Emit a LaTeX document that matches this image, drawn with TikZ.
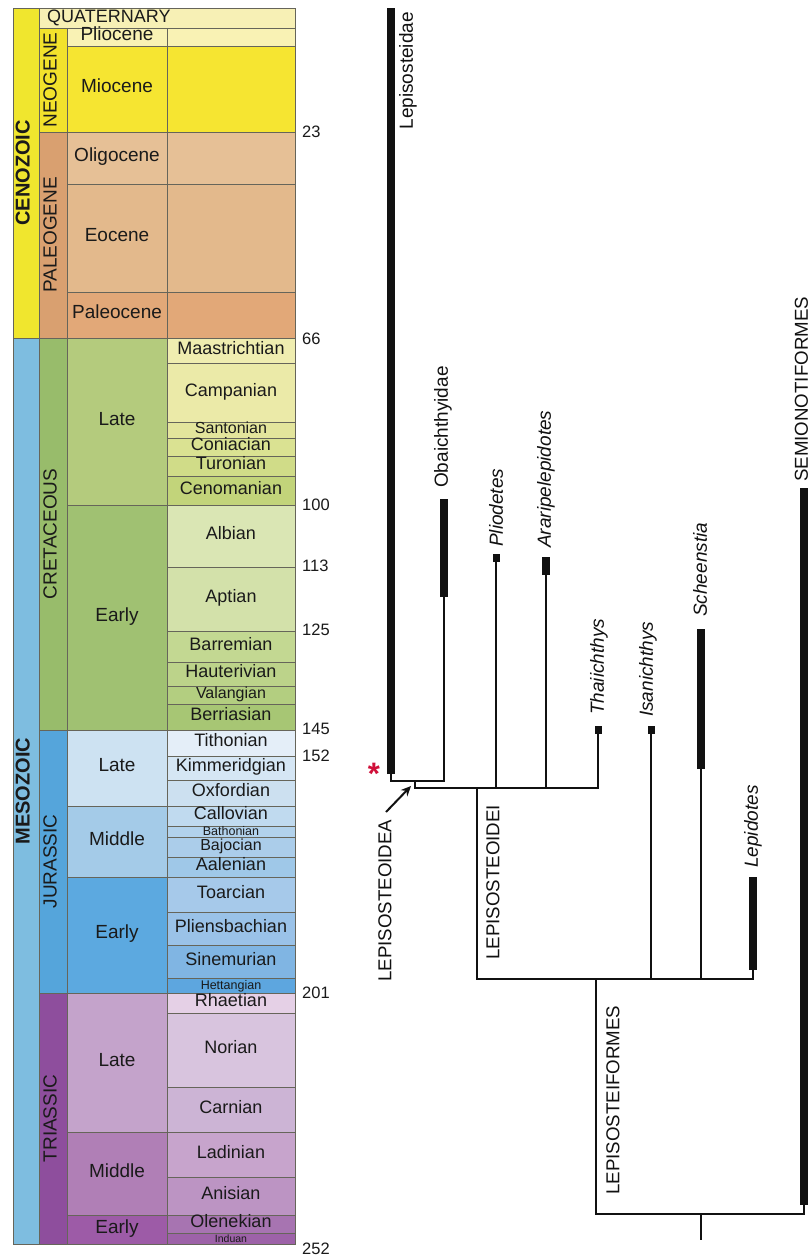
\documentclass[tikz,border=0pt]{standalone}
\usepackage{fontspec}
\setmainfont{Liberation Sans}
\usetikzlibrary{arrows.meta}
\definecolor{tsborder}{HTML}{66655A}
\definecolor{cCen}{HTML}{F0E62E}
\definecolor{cQua}{HTML}{F7F0B5}
\definecolor{cNeo}{HTML}{F2E22C}
\definecolor{cPlio}{HTML}{F9F2B4}
\definecolor{cMio}{HTML}{F6E531}
\definecolor{cPgn}{HTML}{D9A070}
\definecolor{cOli}{HTML}{E6C096}
\definecolor{cEoc}{HTML}{E3B98C}
\definecolor{cPal}{HTML}{E2A878}
\definecolor{cMes}{HTML}{7EBDE0}
\definecolor{cCre}{HTML}{98BC6B}
\definecolor{cLCr}{HTML}{B4CB7D}
\definecolor{cECr}{HTML}{A0C172}
\definecolor{cMaa}{HTML}{EFEDB0}
\definecolor{cCam}{HTML}{EBEAA8}
\definecolor{cSan}{HTML}{E3E59C}
\definecolor{cCon}{HTML}{DAE292}
\definecolor{cTur}{HTML}{D0DC88}
\definecolor{cCen2}{HTML}{C2D47A}
\definecolor{cAlb}{HTML}{DAE6B4}
\definecolor{cApt}{HTML}{D3E1AA}
\definecolor{cBar}{HTML}{C3D892}
\definecolor{cHau}{HTML}{BCD38A}
\definecolor{cVal}{HTML}{B3CE80}
\definecolor{cBer}{HTML}{A7C674}
\definecolor{cJur}{HTML}{55A5DB}
\definecolor{cLJu}{HTML}{CDE2F2}
\definecolor{cMJu}{HTML}{A4CBE8}
\definecolor{cEJu}{HTML}{5CA9E0}
\definecolor{cTit}{HTML}{E4EEF8}
\definecolor{cKim}{HTML}{D5E6F4}
\definecolor{cOxf}{HTML}{CCE0F0}
\definecolor{cCal}{HTML}{C0DAEF}
\definecolor{cBat}{HTML}{B2D2EC}
\definecolor{cBaj}{HTML}{ABCDEA}
\definecolor{cAal}{HTML}{9FC8E8}
\definecolor{cToa}{HTML}{A6C9EA}
\definecolor{cPli}{HTML}{9AC2E8}
\definecolor{cSin}{HTML}{80B5E3}
\definecolor{cHet}{HTML}{5DA6DF}
\definecolor{cTri}{HTML}{8E4E9D}
\definecolor{cLTr}{HTML}{C4A3CB}
\definecolor{cMTr}{HTML}{B07FB6}
\definecolor{cETr}{HTML}{9D5BA7}
\definecolor{cRha}{HTML}{E5D0E6}
\definecolor{cNor}{HTML}{D8C4DE}
\definecolor{cCar}{HTML}{CCB4D5}
\definecolor{cLad}{HTML}{C7A4CC}
\definecolor{cAni}{HTML}{BC94C3}
\definecolor{cOle}{HTML}{A774B1}
\definecolor{cInd}{HTML}{9D62A8}
\definecolor{txt}{HTML}{1A1A1A}
\definecolor{ink}{HTML}{111111}
\definecolor{star}{HTML}{D0103A}
\newcommand\tscell[8][]{%
  \path[tsline, fill=#7] (#3,#4) rectangle (#5,#6);
  \node[tslabel, #1] (#2) at ({(#3+#5)/2},{(#4+#6)/2}) {#8};}
\newcommand\tsfill[5]{\path[tsline, fill=#5] (#1,#2) rectangle (#3,#4);}
\begin{document}
\begin{tikzpicture}[x=1pt, y=-1pt,
  tsline/.style={draw=tsborder, line width=0.8pt},
  tslabel/.style={inner sep=0pt, text=txt, text height=0.716em, text depth=0pt, font=\fontsize{18}{18}\selectfont},
  eralbl/.style={rotate=90, font=\bfseries\fontsize{20}{20}\selectfont},
  perlbl/.style={rotate=90, font=\fontsize{19}{19}\selectfont},
  eplbl/.style={font=\fontsize{19}{19}\selectfont},
  agelbl/.style={inner sep=0pt, anchor=west, text=txt, text height=0.716em, text depth=0pt, font=\fontsize{16.5}{16.5}\selectfont},
  branch/.style={draw=ink, line width=2pt, line cap=rect},
  rangebar/.style={draw=ink, line width=7.5pt},
  tipsq/.style={fill=ink, inner sep=0pt, minimum width=7pt, minimum height=8pt},
  taxon/.style={rotate=90, inner sep=0pt, text=ink, font=\fontsize{19}{19}\selectfont},
  taxit/.style={taxon, font=\itshape\fontsize{19}{19}\selectfont},
  clade/.style={rotate=90, inner sep=0pt, text=ink, font=\fontsize{18.7}{18.7}\selectfont}]
\useasboundingbox (0,0) rectangle (810,1257);
\fill[white] (0,0) rectangle (810,1257);
% ---------------- Cenozoic ----------------
\tscell[eralbl]{cenozoic}{13}{8}{39}{338}{cCen}{CENOZOIC}
\path[tsline, fill=cQua] (39,8) rectangle (295,28);
\node[tslabel, anchor=west] (quaternary) at (47,18.5) {QUATERNARY};
\tscell[perlbl]{neogene}{39}{28}{67}{132}{cNeo}{NEOGENE}
\tscell[eplbl]{pliocene}{67}{28}{167}{46}{cPlio}{Pliocene}
\tsfill{167}{28}{295}{46}{cPlio}
\tscell[eplbl]{miocene}{67}{46}{167}{132}{cMio}{Miocene}
\tsfill{167}{46}{295}{132}{cMio}
\tscell[perlbl]{paleogene}{39}{132}{67}{338}{cPgn}{PALEOGENE}
\tscell[eplbl]{oligocene}{67}{132}{167}{184}{cOli}{Oligocene}
\tsfill{167}{132}{295}{184}{cOli}
\tscell[eplbl]{eocene}{67}{184}{167}{292}{cEoc}{Eocene}
\tsfill{167}{184}{295}{292}{cEoc}
\tscell[eplbl]{paleocene}{67}{292}{167}{338}{cPal}{Paleocene}
\tsfill{167}{292}{295}{338}{cPal}
% ---------------- Mesozoic ----------------
\tscell[eralbl]{mesozoic}{13}{338}{39}{1244}{cMes}{MESOZOIC}
% Cretaceous
\tscell[perlbl]{cretaceous}{39}{338}{67}{730}{cCre}{CRETACEOUS}
\tscell[eplbl]{lateK}{67}{338}{167}{505}{cLCr}{Late}
\tscell[eplbl]{earlyK}{67}{505}{167}{730}{cECr}{Early}
\tscell{maa}{167}{338}{295}{363}{cMaa}{Maastrichtian}
\tscell{cam}{167}{363}{295}{422}{cCam}{Campanian}
\tscell[font=\fontsize{16}{16}\selectfont]{san}{167}{422}{295}{438}{cSan}{Santonian}
\tscell{con}{167}{438}{295}{456}{cCon}{Coniacian}
\tscell{tur}{167}{456}{295}{476}{cTur}{Turonian}
\tscell{cen}{167}{476}{295}{505}{cCen2}{Cenomanian}
\tscell{alb}{167}{505}{295}{567}{cAlb}{Albian}
\tscell{apt}{167}{567}{295}{631}{cApt}{Aptian}
\tscell{bar}{167}{631}{295}{662}{cBar}{Barremian}
\tscell{hau}{167}{662}{295}{686}{cHau}{Hauterivian}
\tscell[font=\fontsize{16}{16}\selectfont]{val}{167}{686}{295}{704}{cVal}{Valangian}
\tscell{ber}{167}{704}{295}{730}{cBer}{Berriasian}
% Jurassic
\tscell[perlbl]{jurassic}{39}{730}{67}{993}{cJur}{JURASSIC}
\tscell[eplbl]{lateJ}{67}{730}{167}{806}{cLJu}{Late}
\tscell[eplbl]{middleJ}{67}{806}{167}{877}{cMJu}{Middle}
\tscell[eplbl]{earlyJ}{67}{877}{167}{993}{cEJu}{Early}
\tscell{tit}{167}{730}{295}{756}{cTit}{Tithonian}
\tscell{kim}{167}{756}{295}{780}{cKim}{Kimmeridgian}
\tscell{oxf}{167}{780}{295}{806}{cOxf}{Oxfordian}
\tscell{cal}{167}{806}{295}{826}{cCal}{Callovian}
\tscell[font=\fontsize{12.5}{12.5}\selectfont]{bat}{167}{826}{295}{837}{cBat}{Bathonian}
\tscell[font=\fontsize{16}{16}\selectfont]{baj}{167}{837}{295}{857}{cBaj}{Bajocian}
\tscell{aal}{167}{857}{295}{877}{cAal}{Aalenian}
\tscell{toa}{167}{877}{295}{912}{cToa}{Toarcian}
\tscell{pli}{167}{912}{295}{945}{cPli}{Pliensbachian}
\tscell{sin}{167}{945}{295}{978}{cSin}{Sinemurian}
\tscell[font=\fontsize{12.5}{12.5}\selectfont]{het}{167}{978}{295}{993}{cHet}{Hettangian}
% Triassic
\tscell[perlbl]{triassic}{39}{993}{67}{1244}{cTri}{TRIASSIC}
\tscell[eplbl]{lateT}{67}{993}{167}{1132}{cLTr}{Late}
\tscell[eplbl]{middleT}{67}{1132}{167}{1215}{cMTr}{Middle}
\tscell[eplbl]{earlyT}{67}{1215}{167}{1244}{cETr}{Early}
\tscell{rha}{167}{993}{295}{1013}{cRha}{Rhaetian}
\tscell{nor}{167}{1013}{295}{1087}{cNor}{Norian}
\tscell{car}{167}{1087}{295}{1132}{cCar}{Carnian}
\tscell{lad}{167}{1132}{295}{1177}{cLad}{Ladinian}
\tscell{ani}{167}{1177}{295}{1215}{cAni}{Anisian}
\tscell{ole}{167}{1215}{295}{1233}{cOle}{Olenekian}
\tscell[font=\fontsize{10.5}{10.5}\selectfont]{ind}{167}{1233}{295}{1244}{cInd}{Induan}
% ages
\node[agelbl] (a23) at (302,134) {23};
\node[agelbl] (a66) at (302,341) {66};
\node[agelbl] (a100) at (302,507) {100};
\node[agelbl] (a113) at (302,568) {113};
\node[agelbl] (a125) at (302,632) {125};
\node[agelbl] (a145) at (302,731) {145};
\node[agelbl] (a152) at (302,758) {152};
\node[agelbl] (a201) at (302,995) {201};
\node[agelbl] (a252) at (302,1251) {252};
% ---------------- Tree ----------------
\coordinate (root) at (701,1239);
\coordinate (nRoot) at (701,1214);
\coordinate (nLfm) at (596,1214);
\coordinate (nSem) at (804,1214);
\coordinate (semBarEnd) at (804,1205);
\coordinate (semTop) at (804,488);
\coordinate (nLfmTop) at (596,979);
\coordinate (h979L) at (477,979);
\coordinate (isaBase) at (651,979);
\coordinate (isaTop) at (651,730);
\coordinate (schBase) at (701,979);
\coordinate (schBarEnd) at (701,769);
\coordinate (schTop) at (701,629);
\coordinate (lepBase) at (753,979);
\coordinate (lepBarEnd) at (753,970);
\coordinate (lepTop) at (753,877);
\coordinate (loiTop) at (477,788);
\coordinate (h788L) at (415,788);
\coordinate (pliBase) at (496,788);
\coordinate (pliTop) at (496,558);
\coordinate (araBase) at (546,788);
\coordinate (araBarEnd) at (546,575);
\coordinate (araTop) at (546,557);
\coordinate (thaBase) at (598,788);
\coordinate (thaTop) at (598,730);
\coordinate (n781) at (415,781);
\coordinate (lsdBase) at (391,781);
\coordinate (lsdBarEnd) at (391,774);
\coordinate (lsdTop) at (391,8);
\coordinate (obaBase) at (444,781);
\coordinate (obaBarEnd) at (444,597);
\coordinate (obaTop) at (444,499);
\coordinate (arrTail) at (386,812);
\coordinate (arrHead) at (411,786);

\draw[branch] (root) -- (nRoot);
\draw[branch] (nLfm) -- (nSem);
\draw[branch] (nSem) -- (semBarEnd);
\draw[rangebar] (semBarEnd) -- (semTop);
\draw[branch] (nLfm) -- (nLfmTop);
\draw[branch] (h979L) -- (lepBase);
\draw[branch] (isaBase) -- (isaTop);
\draw[branch] (schBase) -- (schBarEnd);
\draw[rangebar] (schBarEnd) -- (schTop);
\draw[branch] (lepBase) -- (lepBarEnd);
\draw[rangebar] (lepBarEnd) -- (lepTop);
\draw[branch] (h979L) -- (loiTop);
\draw[branch] (h788L) -- (thaBase);
\draw[branch] (pliBase) -- (pliTop);
\draw[branch] (araBase) -- (araBarEnd);
\draw[rangebar] (araBarEnd) -- (araTop);
\draw[branch] (thaBase) -- (thaTop);
\draw[branch] (h788L) -- (n781);
\draw[branch] (lsdBase) -- (obaBase);
\draw[branch] (lsdBase) -- (lsdBarEnd);
\draw[rangebar] (lsdBarEnd) -- (lsdTop);
\draw[branch] (obaBase) -- (obaBarEnd);
\draw[rangebar] (obaBarEnd) -- (obaTop);
\node[tipsq] (pliSq) at (pliTop) {};
\node[tipsq] (thaSq) at (thaTop) {};
\node[tipsq] (isaSq) at (isaTop) {};
% labels
\node[taxon, anchor=east] (lsdLbl) at (408,12) {Lepisosteidae};
\node[taxon, anchor=west] (obaLbl) at (443,488) {Obaichthyidae};
\node[taxit, anchor=west] (pliLbl) at (496,547) {Pliodetes};
\node[taxit, anchor=west] (araLbl) at (546,548) {Araripelepidotes};
\node[taxit, anchor=west] (thaLbl) at (599,715) {Thaiichthys};
\node[taxit, anchor=west] (isaLbl) at (648,717) {Isanichthys};
\node[taxit, anchor=west] (schLbl) at (700,617) {Scheenstia};
\node[taxit, anchor=west] (lepLbl) at (753,868) {Lepidotes};
\node[clade, anchor=west] (semLbl) at (801.5,482) {SEMIONOTIFORMES};
\node[clade, anchor=west] (loaLbl) at (385,982) {LEPISOSTEOIDEA};
\node[clade, anchor=west] (loiLbl) at (493,960) {LEPISOSTEOIDEI};
\node[clade, anchor=west] (lfmLbl) at (613,1195) {LEPISOSTEIFORMES};
\node[text=star, inner sep=0pt, font=\bfseries\fontsize{31}{31}\selectfont] (asterisk) at (374,774) {*};
\draw[branch, line cap=butt, -{Stealth[length=10pt, width=9pt]}] (arrTail) -- (arrHead);
\end{tikzpicture}
\end{document}
